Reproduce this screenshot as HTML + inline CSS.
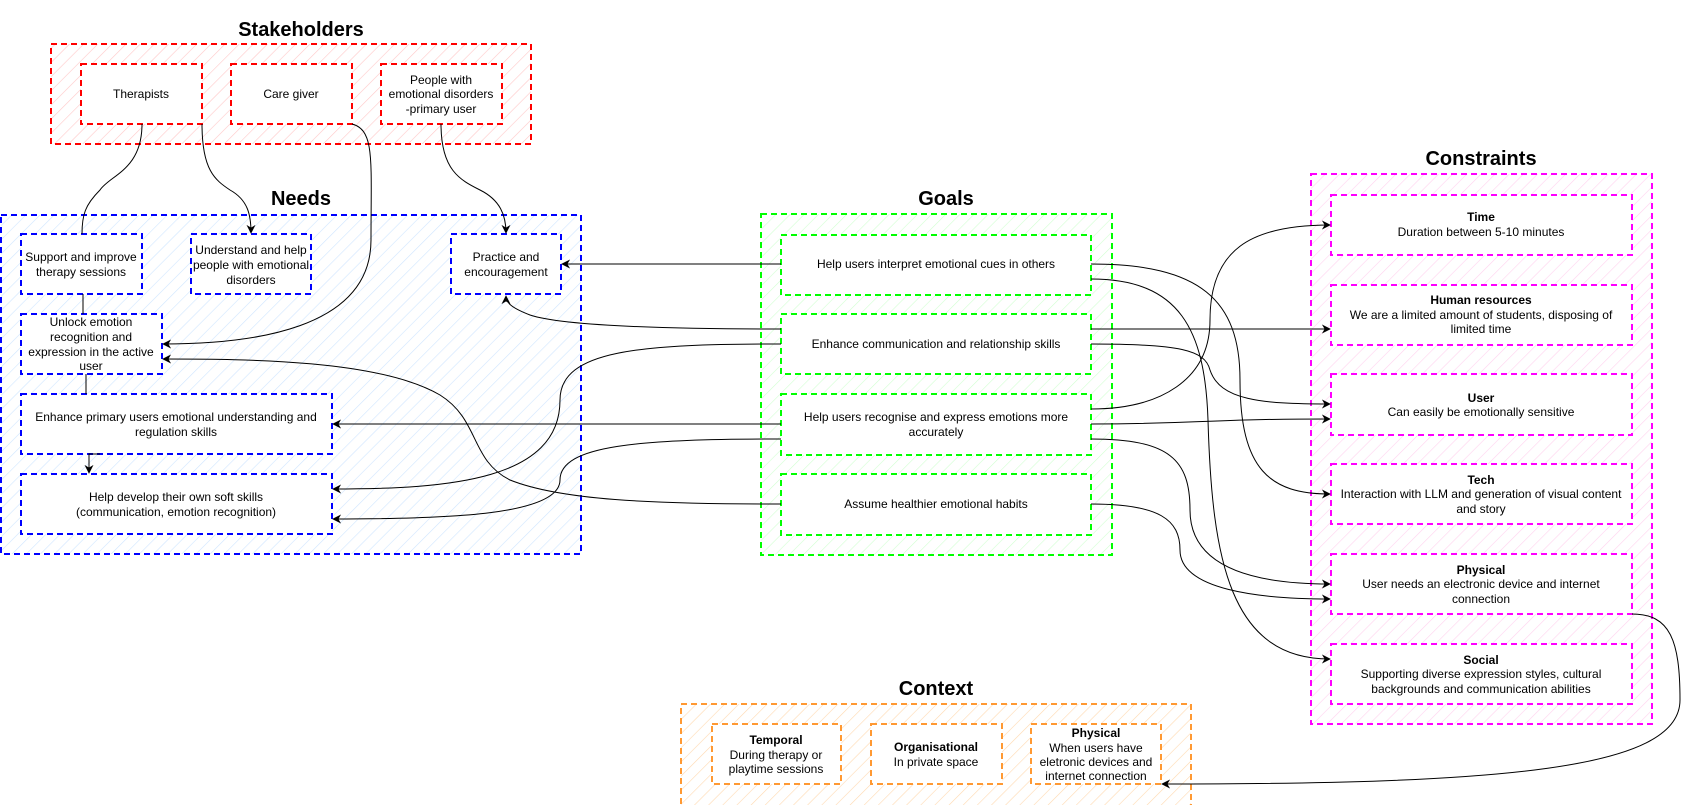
<!DOCTYPE html>
<html><head><meta charset="utf-8"><style>
html,body{margin:0;padding:0;background:#fff;}
svg{display:block;font-family:"Liberation Sans",Arial,sans-serif;}
.t{font-size:20px;font-weight:bold;text-anchor:middle;}
.l{font-size:12px;text-anchor:middle;}
.b{font-weight:bold;}
.c{fill:none;stroke:#000;stroke-width:1;}
</style></head><body>
<svg width="1682" height="805" viewBox="0 0 1682 805" xmlns="http://www.w3.org/2000/svg">
<defs>
<pattern id="hr" width="10" height="10" patternUnits="userSpaceOnUse" patternTransform="rotate(45)"><line x1="0" y1="0" x2="0" y2="10" stroke="#ffc8c8" stroke-width="1.2"/></pattern>
<pattern id="hb" width="10" height="10" patternUnits="userSpaceOnUse" patternTransform="rotate(45)"><line x1="0" y1="0" x2="0" y2="10" stroke="#cfe6ff" stroke-width="1.2"/></pattern>
<pattern id="hg" width="10" height="10" patternUnits="userSpaceOnUse" patternTransform="rotate(45)"><line x1="0" y1="0" x2="0" y2="10" stroke="#d2ffd2" stroke-width="1.2"/></pattern>
<pattern id="hm" width="10" height="10" patternUnits="userSpaceOnUse" patternTransform="rotate(45)"><line x1="0" y1="0" x2="0" y2="10" stroke="#ffd2ee" stroke-width="1.2"/></pattern>
<pattern id="ho" width="10" height="10" patternUnits="userSpaceOnUse" patternTransform="rotate(45)"><line x1="0" y1="0" x2="0" y2="10" stroke="#ffd9b0" stroke-width="1.2"/></pattern>
<marker id="a" viewBox="0 0 10 10" refX="9" refY="5" markerWidth="9" markerHeight="9" orient="auto" markerUnits="userSpaceOnUse"><path d="M0,0 L10,5 L0,10 L3,5 Z" fill="#000"/></marker>
</defs>

<!-- Stakeholders -->
<text class="t" x="301" y="36">Stakeholders</text>
<rect x="51" y="44" width="480" height="100" fill="url(#hr)" stroke="#f00" stroke-width="2" stroke-dasharray="6 4"/>
<g fill="#fff" stroke="#f00" stroke-width="2" stroke-dasharray="6 4">
<rect x="81" y="64" width="121" height="60"/><rect x="231" y="64" width="121" height="60"/><rect x="381" y="64" width="121" height="60"/>
</g>
<text class="l" x="141" y="98">Therapists</text>
<text class="l" x="291" y="98">Care giver</text>
<text class="l" x="441" y="84">People with</text>
<text class="l" x="441" y="98">emotional disorders</text>
<text class="l" x="441" y="113">-primary user</text>

<!-- Needs -->
<text class="t" x="301" y="205">Needs</text>
<rect x="1" y="215" width="580" height="339" fill="url(#hb)" stroke="#00f" stroke-width="2" stroke-dasharray="6 4"/>
<g fill="#fff" stroke="#00f" stroke-width="2" stroke-dasharray="6 4">
<rect x="21" y="234" width="121" height="60"/><rect x="191" y="234" width="120" height="60"/><rect x="451" y="234" width="110" height="60"/>
<rect x="21" y="314" width="141" height="60"/><rect x="21" y="394" width="311" height="60"/><rect x="21" y="474" width="311" height="60"/>
</g>
<text class="l" x="81" y="261">Support and improve</text><text class="l" x="81" y="276">therapy sessions</text>
<text class="l" x="251" y="254">Understand and help</text><text class="l" x="251" y="269">people with emotional</text><text class="l" x="251" y="284">disorders</text>
<text class="l" x="506" y="261">Practice and</text><text class="l" x="506" y="276">encouragement</text>
<text class="l" x="91" y="326">Unlock emotion</text><text class="l" x="91" y="341">recognition and</text><text class="l" x="91" y="356">expression in the active</text><text class="l" x="91" y="370">user</text>
<text class="l" x="176" y="421">Enhance primary users emotional understanding and</text><text class="l" x="176" y="436">regulation skills</text>
<text class="l" x="176" y="501">Help develop their own soft skills</text><text class="l" x="176" y="516">(communication, emotion recognition)</text>

<!-- Goals -->
<text class="t" x="946" y="205">Goals</text>
<rect x="761" y="214" width="351" height="341" fill="url(#hg)" stroke="#0f0" stroke-width="2" stroke-dasharray="6 4"/>
<g fill="#fff" stroke="#0f0" stroke-width="2" stroke-dasharray="6 4">
<rect x="781" y="235" width="310" height="60"/><rect x="781" y="314" width="310" height="60"/><rect x="781" y="394" width="310" height="61"/><rect x="781" y="474" width="310" height="61"/>
</g>
<text class="l" x="936" y="268">Help users interpret emotional cues in others</text>
<text class="l" x="936" y="348">Enhance communication and relationship skills</text>
<text class="l" x="936" y="421">Help users recognise and express emotions more</text><text class="l" x="936" y="436">accurately</text>
<text class="l" x="936" y="508">Assume healthier emotional habits</text>

<!-- Constraints -->
<text class="t" x="1481" y="165">Constraints</text>
<rect x="1311" y="174" width="341" height="550" fill="url(#hm)" stroke="#f0f" stroke-width="2" stroke-dasharray="6 4"/>
<g fill="#fff" stroke="#f0f" stroke-width="2" stroke-dasharray="6 4">
<rect x="1331" y="195" width="301" height="60"/><rect x="1331" y="285" width="301" height="60"/><rect x="1331" y="374" width="301" height="61"/>
<rect x="1331" y="464" width="301" height="60"/><rect x="1331" y="554" width="301" height="60"/><rect x="1331" y="644" width="301" height="60"/>
</g>
<text class="l b" x="1481" y="221">Time</text><text class="l" x="1481" y="236">Duration between 5-10 minutes</text>
<text class="l b" x="1481" y="304">Human resources</text><text class="l" x="1481" y="319">We are a limited amount of students, disposing of</text><text class="l" x="1481" y="333">limited time</text>
<text class="l b" x="1481" y="402">User</text><text class="l" x="1481" y="416">Can easily be emotionally sensitive</text>
<text class="l b" x="1481" y="484">Tech</text><text class="l" x="1481" y="498">Interaction with LLM and generation of visual content</text><text class="l" x="1481" y="513">and story</text>
<text class="l b" x="1481" y="574">Physical</text><text class="l" x="1481" y="588">User needs an electronic device and internet</text><text class="l" x="1481" y="603">connection</text>
<text class="l b" x="1481" y="664">Social</text><text class="l" x="1481" y="678">Supporting diverse expression styles, cultural</text><text class="l" x="1481" y="693">backgrounds and communication abilities</text>

<!-- Context -->
<text class="t" x="936" y="695">Context</text>
<rect x="681" y="704" width="510" height="110" fill="url(#ho)" stroke="#f93" stroke-width="2" stroke-dasharray="6 4"/>
<g fill="#fff" stroke="#f93" stroke-width="2" stroke-dasharray="6 4">
<rect x="712" y="724" width="129" height="60"/><rect x="871" y="724" width="131" height="60"/><rect x="1031" y="724" width="130" height="60"/>
</g>
<text class="l b" x="776" y="744">Temporal</text><text class="l" x="776" y="759">During therapy or</text><text class="l" x="776" y="773">playtime sessions</text>
<text class="l b" x="936" y="751">Organisational</text><text class="l" x="936" y="766">In private space</text>
<text class="l b" x="1096" y="737">Physical</text><text class="l" x="1096" y="752">When users have</text><text class="l" x="1096" y="766">eletronic devices and</text><text class="l" x="1096" y="780">internet connection</text>

<!-- Connectors: stakeholders to needs -->
<path class="c" d="M142,124 C142,170 110,175 100,190 C85,205 82,215 82,234"/>
<path class="c" marker-end="url(#a)" d="M202,124 C202,170 215,180 230,190 C248,200 251,215 251,233"/>
<path class="c" marker-end="url(#a)" d="M352,124 C375,130 371,160 371,240 C371,330 250,344 163,344"/>
<path class="c" marker-end="url(#a)" d="M441,124 C441,170 460,180 480,190 C500,200 506,215 506,233"/>

<!-- Within needs -->
<path class="c" d="M83,294 V314"/>
<path class="c" d="M86,374 V394"/>
<path class="c" marker-end="url(#a)" d="M100,454 H89 V473"/>

<!-- Goals to needs -->
<path class="c" marker-end="url(#a)" d="M781,264 H562"/>
<path class="c" marker-end="url(#a)" d="M781,329 C650,329 560,325 530,315 C512,308 506,303 506,296"/>
<path class="c" marker-end="url(#a)" d="M781,344 C640,344 560,350 560,400 C560,480 450,489 333,489"/>
<path class="c" marker-end="url(#a)" d="M781,424 H333"/>
<path class="c" marker-end="url(#a)" d="M781,439 C640,439 560,445 560,480 C560,515 450,519 333,519"/>
<path class="c" marker-end="url(#a)" d="M781,504 C650,504 560,500 510,480 C470,460 480,420 440,395 C380,360 250,359 163,359"/>

<!-- Goals to constraints -->
<path class="c" marker-end="url(#a)" d="M1091,264 C1200,264 1240,300 1240,380 C1240,470 1270,494 1330,494"/>
<path class="c" marker-end="url(#a)" d="M1091,279 C1180,279 1205,330 1208,420 C1212,560 1230,659 1330,659"/>
<path class="c" marker-end="url(#a)" d="M1091,329 H1330"/>
<path class="c" marker-end="url(#a)" d="M1091,344 C1180,344 1205,350 1210,370 C1220,400 1260,404 1330,404"/>
<path class="c" marker-end="url(#a)" d="M1091,409 C1160,409 1210,380 1210,320 C1210,250 1250,225 1330,225"/>
<path class="c" marker-end="url(#a)" d="M1091,424 C1200,424 1200,419 1330,419"/>
<path class="c" marker-end="url(#a)" d="M1091,439 C1170,439 1190,460 1190,510 C1190,570 1260,584 1330,584"/>
<path class="c" marker-end="url(#a)" d="M1091,504 C1160,504 1180,520 1180,550 C1180,590 1260,599 1330,599"/>
<path class="c" marker-end="url(#a)" d="M1632,614 C1670,614 1680,640 1680,700 C1680,770 1500,784 1162,784"/>
</svg>
</body></html>
